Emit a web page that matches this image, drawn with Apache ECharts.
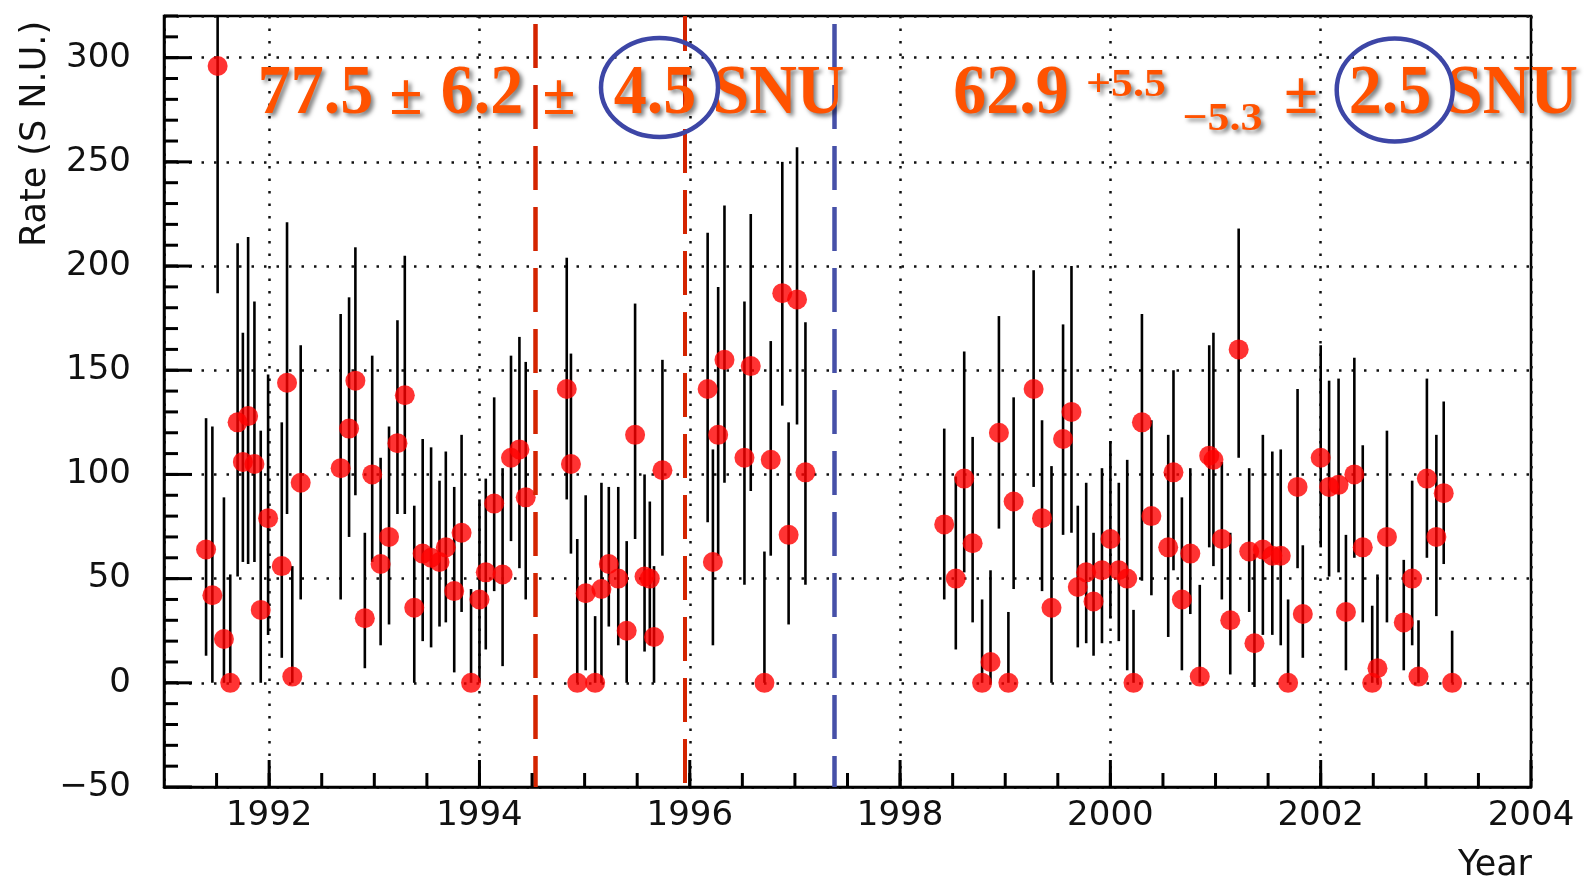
<!DOCTYPE html>
<html>
<head>
<meta charset="utf-8">
<title>Rate (S N.U.) vs Year</title>
<script src="https://cdn.jsdelivr.net/npm/echarts@6.0.0/dist/echarts.min.js"></script>
<style>
  html, body { margin: 0; padding: 0; background: #fff; }
  #chart { width: 1584px; height: 882px; }
</style>
</head>
<body>
<div id="chart"></div>
<script>
// run dates (decimal year)
var years = [
  1991.40, 1991.46, 1991.51, 1991.57, 1991.63, 1991.70, 1991.75, 1991.80, 1991.86, 1991.92,
  1991.99, 1992.12, 1992.17, 1992.22, 1992.30, 1992.68, 1992.76, 1992.82, 1992.91, 1992.98,
  1993.06, 1993.14, 1993.22, 1993.29, 1993.38, 1993.46, 1993.54, 1993.62, 1993.68, 1993.76,
  1993.83, 1993.92, 1994.00, 1994.06, 1994.14, 1994.22, 1994.30, 1994.38, 1994.44, 1994.83,
  1994.87, 1994.93, 1995.01, 1995.10, 1995.16, 1995.23, 1995.32, 1995.40, 1995.48, 1995.57,
  1995.62, 1995.66, 1995.74, 1996.17, 1996.22, 1996.27, 1996.33, 1996.52, 1996.58, 1996.71,
  1996.77, 1996.88, 1996.94, 1997.02, 1997.10,
  1998.42, 1998.53, 1998.61, 1998.69, 1998.78, 1998.86, 1998.94, 1999.03, 1999.08, 1999.27,
  1999.35, 1999.44, 1999.55, 1999.63, 1999.69, 1999.77, 1999.84, 1999.92, 2000.00, 2000.08,
  2000.16, 2000.22, 2000.30, 2000.39, 2000.55, 2000.60, 2000.68, 2000.76, 2000.85, 2000.94,
  2000.98, 2001.06, 2001.14, 2001.22, 2001.32, 2001.37, 2001.45, 2001.54, 2001.62, 2001.69,
  2001.78, 2001.83, 2002.00, 2002.08, 2002.17, 2002.24, 2002.32, 2002.40, 2002.49, 2002.54,
  2002.63, 2002.79, 2002.87, 2002.93, 2003.01, 2003.10, 2003.17, 2003.25
];
// measured rate (SNU)
var rate = [
  64, 42, 296, 21, 0, 125, 106, 128, 105, 35,
  79, 56, 144, 3, 96, 103, 122, 145, 31, 100,
  57, 70, 115, 138, 36, 62, 60, 58, 65, 44,
  72, 0, 40, 53, 86, 52, 108, 112, 89, 141,
  105, 0, 43, 0, 45, 57, 50, 25, 119, 51,
  50, 22, 102, 141, 58, 119, 155, 108, 152, 0,
  107, 187, 71, 184, 101,
  76, 50, 98, 67, 0, 10, 120, 0, 87, 141,
  79, 36, 117, 130, 46, 53, 39, 54, 69, 54,
  50, 0, 125, 80, 65, 101, 40, 62, 3, 109,
  107, 69, 30, 160, 63, 19, 64, 61, 61, 0,
  94, 33, 108, 94, 95, 34, 100, 65, 0, 7,
  70, 29, 50, 3, 98, 70, 91, 0
];
// error bar ends
var errLow = [
  13, 0, 187, 0, 0, 51, 58, 57, 58, 0,
  23, 12, 81, 0, 40, 40, 70, 90, 7, 58,
  18, 28, 81, 81, 0, 20, 17, 27, 29, 5,
  34, 0, 0, 16, 44, 8, 68, 55, 40, 88,
  62, 0, 6, 0, 0, 27, 18, 0, 69, 15,
  18, 0, 61, 77, 18, 61, 96, 47, 92, 0,
  61, 133, 28, 124, 47,
  40, 16, 53, 29, 0, 0, 74, 0, 45, 94,
  44, 0, 71, 72, 17, 19, 13, 19, 31, 20,
  6, 0, 49, 42, 22, 54, 6, 33, 0, 65,
  56, 40, 4, 108, 34, -2, 23, 23, 18, 0,
  55, 12, 65, 51, 53, 6, 60, 29, 0, 0,
  29, 6, 18, 0, 60, 32, 57, 0
];
var errHigh = [
  127, 123, 330, 89, 52, 211, 168, 214, 183, 121,
  148, 125, 221, 56, 162, 177, 185, 209, 72, 157,
  108, 123, 174, 205, 85, 117, 113, 97, 111, 94,
  119, 45, 88, 98, 137, 103, 157, 166, 154, 204,
  158, 69, 90, 32, 96, 94, 94, 68, 182, 100,
  87, 56, 155, 216, 112, 190, 229, 183, 225, 63,
  164, 250, 125, 257, 173,
  122, 99, 159, 118, 40, 54, 176, 34, 137, 198,
  126, 104, 172, 200, 85, 96, 72, 103, 116, 96,
  107, 35, 177, 126, 119, 150, 89, 103, 47, 162,
  168, 106, 72, 218, 103, 62, 119, 111, 112, 40,
  141, 66, 162, 145, 146, 71, 156, 114, 37, 52,
  121, 59, 97, 30, 146, 119, 135, 25
];
// tick labels
var yearTicks = [1992, 1994, 1996, 1998, 2000, 2002, 2004];
var rateTicks = [-50, 0, 50, 100, 150, 200, 250, 300];
// period boundaries (dashed lines)
var boundaries = [1994.53, 1995.95, 1997.37];

var yMin = -50, yMax = 320, xMin = 1991, xMax = 2004;

// minor ticks every half year / every 10 SNU
var yearMinor = [];
for (var t = 1991.5; t < 2004; t += 0.5) yearMinor.push(t);
var rateMinor = [];
for (var r = -40; r <= 320; r += 10) rateMinor.push(r);

var serif = '"Liberation Serif", "Times New Roman", serif';
var orange = '#ff5200';
var shadow = { textShadowColor: 'rgba(0,0,0,0.5)', textShadowBlur: 4, textShadowOffsetX: 3, textShadowOffsetY: 3 };

function label(txt, cx, cy, size, sy) {
  return {
    type: 'text', x: cx, y: cy, scaleY: sy || 1, z: 100,
    style: Object.assign({
      text: txt, fill: orange, align: 'center', verticalAlign: 'middle',
      font: 'bold ' + size + 'px ' + serif
    }, shadow)
  };
}

var chart = echarts.init(document.getElementById('chart'));

var tickFont = { fontFamily: 'DejaVu Sans', fontSize: 34, color: '#111' };
var dotted = { color: '#111', width: 2.5, type: [2.5, 10] };
var frameLine = { color: '#000', width: 2.5 };

chart.setOption({
  animation: false,
  backgroundColor: '#fff',
  grid: { left: 164, right: 53, top: 16, bottom: 95, show: true, borderColor: '#000', borderWidth: 2.5 },
  xAxis: {
    type: 'value', min: xMin, max: xMax, splitNumber: 6,
    axisLine: { show: true, onZero: false, lineStyle: frameLine },
    axisTick: { show: false },
    axisLabel: Object.assign({
      customValues: yearTicks, margin: 12,
      formatter: function (v) { return String(v); }
    }, tickFont),
    splitLine: { show: true, lineStyle: dotted }
  },
  yAxis: {
    type: 'value', min: yMin, max: yMax, interval: 50,
    axisLine: { show: true, onZero: false, lineStyle: frameLine },
    axisTick: { show: false },
    axisLabel: Object.assign({
      customValues: rateTicks, margin: 33,
      formatter: function (v) { return v < 0 ? '\u2212' + Math.abs(v) : String(v); }
    }, tickFont),
    splitLine: { show: true, lineStyle: dotted }
  },
  series: [{
    // vertical error bars
    type: 'custom',
    clip: true,
    encode: { x: 0, y: [1, 2] },
    data: years.map(function (x, i) { return [x, errLow[i], errHigh[i]]; }),
    renderItem: function (params, api) {
      var lo = api.coord([api.value(0), api.value(1)]);
      var hi = api.coord([api.value(0), api.value(2)]);
      return {
        type: 'line',
        shape: { x1: lo[0], y1: lo[1], x2: hi[0], y2: hi[1] },
        style: { stroke: '#000', lineWidth: 2.6 }
      };
    },
    markLine: {
      silent: true, symbol: 'none', label: { show: false },
      data: [
        { xAxis: boundaries[0], lineStyle: { color: '#d42400', width: 4.5, type: [44, 17], dashOffset: 13 } },
        { xAxis: boundaries[1], lineStyle: { color: '#d42400', width: 4, type: [44, 17], dashOffset: 57 } },
        { xAxis: boundaries[2], lineStyle: { color: '#4650a8', width: 4.5, type: [44, 17], dashOffset: 13 } }
      ]
    }
  }, {
    type: 'scatter',
    symbol: 'circle', symbolSize: 20,
    itemStyle: { color: '#ff0000' },
    data: years.map(function (x, i) { return [x, rate[i]]; })
  }]
});

var graphics = [
  {
    type: 'text', x: 36, y: 134, rotation: Math.PI / 2,
    style: { text: 'Rate (S N.U.)', fill: '#111', align: 'center', verticalAlign: 'middle', font: '35px "DejaVu Sans"' }
  },
  {
    type: 'text', x: 1532, y: 866,
    style: { text: 'Year', fill: '#111', align: 'right', verticalAlign: 'middle', font: '35px "DejaVu Sans"' }
  },
  // GALLEX result
  label('77.5', 315.5, 95, 66, 1.05),
  label('\u00b1', 406, 98, 60),
  label('6.2', 482, 95, 66, 1.05),
  label('\u00b1', 559, 98, 60),
  label('4.5', 655, 95, 66, 1.05),
  label('SNU', 778.5, 95, 66, 1.05),
  // GNO result
  label('62.9', 1011, 95, 66, 1.05),
  label('+5.5', 1126, 86, 44, 0.92),
  label('\u22125.3', 1222.5, 120, 44, 0.92),
  label('\u00b1', 1301, 97, 62),
  label('2.5', 1390, 95, 66, 1.05),
  label('SNU', 1512, 95, 66, 1.05),
  {
    type: 'ellipse', z: 101,
    shape: { cx: 659.5, cy: 87.5, rx: 58.5, ry: 49.5 },
    style: { fill: 'none', stroke: '#3d46a6', lineWidth: 4.5 }
  },
  {
    type: 'ellipse', z: 101,
    shape: { cx: 1394.7, cy: 90, rx: 58, ry: 51.5 },
    style: { fill: 'none', stroke: '#3d46a6', lineWidth: 4.5 }
  }
];

// inward tick marks, placed through the axis scales (thin rects)
function tick(xv, yv, horiz, len) {
  var p = chart.convertToPixel({ gridIndex: 0 }, [xv, yv]);
  var w = 3;
  return {
    type: 'rect', z: 90, silent: true,
    shape: horiz ? { x: p[0], y: p[1] - w / 2, width: len, height: w }
                 : { x: p[0] - w / 2, y: p[1] - len, width: w, height: len },
    style: { fill: '#000' }
  };
}
yearMinor.forEach(function (v) { graphics.push(tick(v, yMin, false, 14)); });
yearTicks.forEach(function (v) { graphics.push(tick(v, yMin, false, 27)); });
rateMinor.forEach(function (v) { graphics.push(tick(xMin, v, true, 14)); });
rateTicks.forEach(function (v) { graphics.push(tick(xMin, v, true, 28)); });

chart.setOption({ graphic: graphics });
</script>
</body>
</html>
